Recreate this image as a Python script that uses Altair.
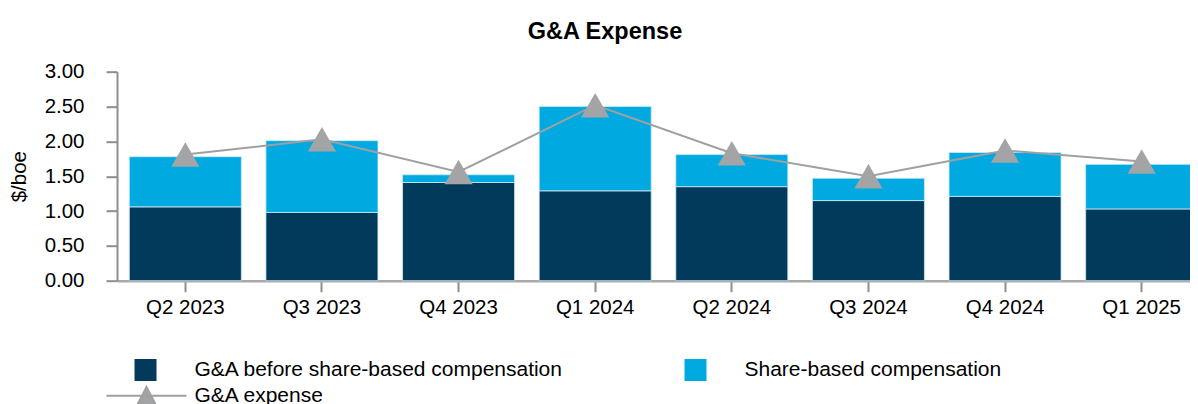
import altair as alt
import pandas as pd

FONT = "Liberation Sans"

quarters = ["Q2 2023", "Q3 2023", "Q4 2023", "Q1 2024", "Q2 2024", "Q3 2024", "Q4 2024", "Q1 2025"]
series = ["G&A before share-based compensation", "Share-based compensation"]
before_sbc = [1.06, 0.98, 1.41, 1.29, 1.35, 1.15, 1.21, 1.03]
sbc = [0.72, 1.03, 0.11, 1.21, 0.46, 0.32, 0.63, 0.64]
ga_expense = [1.81, 2.03, 1.56, 2.52, 1.83, 1.50, 1.87, 1.71]
line_name = "G&A expense"
y_ticks = [0.0, 0.5, 1.0, 1.5, 2.0, 2.5, 3.0]

DARK = "#023A5B"
LIGHT = "#00A9E0"
GRAY = "#A2A4A5"
LINE_GRAY = "#A0A0A0"

rows = []
for i, q in enumerate(quarters):
    rows.append({"quarter": q, "series": series[0], "value": before_sbc[i], "order": 0})
    rows.append({"quarter": q, "series": series[1], "value": sbc[i], "order": 1})
bars_df = pd.DataFrame(rows)
line_df = pd.DataFrame({"quarter": quarters, "value": ga_expense, "name": [line_name] * len(quarters)})

x_axis = alt.Axis(
    title=None, labelAngle=0, labelFont=FONT, labelFontSize=20.5, labelColor="#000000",
    labelPadding=6, tickSize=11, tickWidth=2, tickColor="#8E8E8E",
    domainColor="#A8A8A8", domainWidth=2.5, grid=False,
)
x_scale = alt.Scale(range=[0, 1093], paddingInner=0.18, paddingOuter=0.09)

y_axis = alt.Axis(
    title="$/boe", values=y_ticks, tickCount=10, format=".2f", grid=False, labelOverlap=False,
    labelFont=FONT, labelFontSize=20.5, labelColor="#000000", labelPadding=22,
    tickSize=11, tickWidth=2, tickColor="#8E8E8E",
    domainColor="#8E8E8E", domainWidth=2,
    titleFont=FONT, titleFontSize=20.5, titleFontWeight="normal", titleColor="#000000",
    titleAngle=270, titleX=-97.5, titleY=104.5, titleAlign="center", titleBaseline="middle",
)
y_scale = alt.Scale(domain=[0, 3], nice=False)


def x_enc():
    return alt.X("quarter:N", sort=quarters, scale=x_scale, axis=x_axis)


def y_enc(**kw):
    return alt.Y("value:Q", scale=y_scale, axis=y_axis, **kw)


bars = alt.Chart(bars_df).mark_bar(stroke="#CDEAF6", strokeWidth=0.8).encode(
    x=x_enc(),
    y=y_enc(stack="zero"),
    color=alt.Color(
        "series:N",
        scale=alt.Scale(domain=series, range=[DARK, LIGHT]),
        legend=alt.Legend(
            title=None, orient="none", legendX=17.5, legendY=287.3,
            direction="horizontal", columns=2, columnPadding=121, rowPadding=4,
            symbolType="square", symbolSize=484, symbolStrokeWidth=0,
            labelFont=FONT, labelFontSize=21, labelColor="#000000",
            labelOffset=38, labelLimit=700,
        ),
    ),
    order=alt.Order("order:Q"),
)

line = alt.Chart(line_df).mark_line(strokeWidth=2).encode(
    x=x_enc(),
    y=y_enc(),
    stroke=alt.Stroke(
        "name:N",
        scale=alt.Scale(domain=[line_name], range=[LINE_GRAY]),
        legend=alt.Legend(
            title=None, orient="none", legendX=-11.5, legendY=283,
            symbolType="M-1,0H1M0,-0.22L-0.33,0.42H0.33Z", symbolSize=6400,
            symbolStrokeWidth=2, symbolFillColor=GRAY, symbolStrokeColor=GRAY,
            symbolOpacity=1,
            labelFont=FONT, labelFontSize=21, labelColor="#000000",
            labelOffset=7, labelLimit=700,
        ),
    ),
)

points = alt.Chart(line_df).mark_point(
    shape="triangle-up", filled=True, size=800, color=GRAY, opacity=1
).encode(
    x=x_enc(),
    y=y_enc(),
)

chart = alt.layer(bars, line, points).properties(
    width=1073,
    height=209,
    autosize=alt.AutoSizeParams(type="none"),
    padding={"left": 109, "top": 63.7, "right": 0, "bottom": 123},
    title=alt.TitleParams(
        "G&A Expense", font=FONT, fontSize=23.5, fontWeight="bold", color="#000000",
        anchor="middle", dx=-48.5, dy=28, offset=27, baseline="alphabetic",
    ),
).configure_view(stroke=None)

chart.save("out.html", embed_options={"renderer": "svg", "actions": False})
